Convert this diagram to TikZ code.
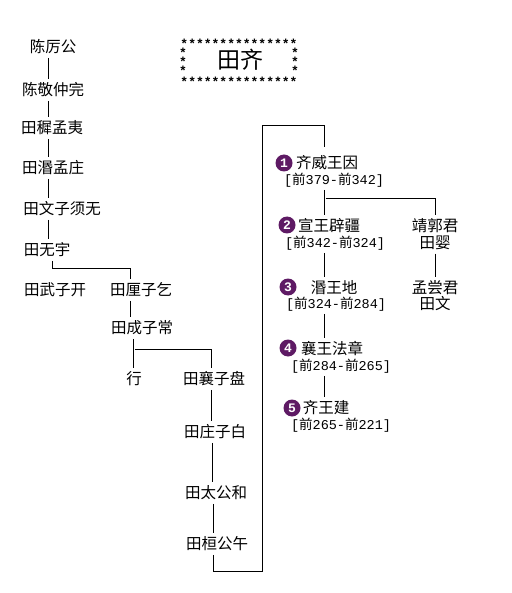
\documentclass[tikz,border=0pt]{standalone}
\usepackage{fontspec}
\setmainfont{Noto Sans CJK SC}
\newfontfamily\monofont{Liberation Mono}
\usetikzlibrary{positioning}
\definecolor{numpurple}{HTML}{5E1A64}
\newcommand{\reign}[2]{{\monofont[}前{\monofont #1-}前{\monofont #2]}}
\newcommand{\starline}[1]{\raisebox{-7.25pt}[2.5pt][2.5pt]{#1}}

\begin{document}
\begin{tikzpicture}[
    x=1pt, y=-1pt,
    every node/.style={font=\fontsize{15.5}{18}\selectfont, inner sep=2pt},
    ruler/.style={},
    years/.style={font=\fontsize{13.5}{15}\selectfont, inner sep=1pt},
    num/.style={circle, fill=numpurple, text=white, inner sep=0pt, minimum size=17pt, font=\monofont\bfseries\fontsize{13}{13}\selectfont},
    stars/.style={font=\monofont\bfseries\fontsize{13}{13}\selectfont, inner sep=0pt},
    link/.style={line width=0.9pt, shorten <=1.5pt, shorten >=1.5pt}
]
\useasboundingbox (0,0) rectangle (511,593);

% Title box
\node[font=\fontsize{23}{25}\selectfont] (title) at (240,60) {田齐};
\node[stars] (startop) at (239,41) {\starline{***************}};
\node[stars] (starbot) at (239,79) {\starline{***************}};
\node[stars] (starl1) at (183,50.5) {\starline{*}};
\node[stars] (starl2) at (183,59.5) {\starline{*}};
\node[stars] (starl3) at (183,68.5) {\starline{*}};
\node[stars] (starr1) at (295,50.5) {\starline{*}};
\node[stars] (starr2) at (295,59.5) {\starline{*}};
\node[stars] (starr3) at (295,68.5) {\starline{*}};

% Chen ancestors
\node (chenli)   at (53,47)  {陈厉公};
\node (jingzhong) at (53,90) {陈敬仲完};
\node (zhimeng)  at (52,128) {田穉孟夷};
\node (minmeng)  at (53,168) {田湣孟庄};
\node (wenzi)    at (62,209) {田文子须无};
\node (wuyu)     at (47,250) {田无宇};
\node (wuzi)     at (55,290) {田武子开};
\node (lizi)     at (141,290) {田厘子乞};
\node (chengzi)  at (142,328) {田成子常};
\node (xing)     at (134,379) {行};
\node (xiangzi)  at (214,379) {田襄子盘};
\node (zhuangzi) at (215,432) {田庄子白};
\node (taigong)  at (216,493) {田太公和};
\node (huangong) at (217,544) {田桓公午};

% Kings of Tian Qi
\node[ruler] (n1) at (327,163) {齐威王因};
\node[years] (d1) at (334,180) {\reign{379}{342}};
\node[ruler] (n2) at (329,226) {宣王辟疆};
\node[years] (d2) at (335,243) {\reign{342}{324}};
\node[ruler] (n3) at (334,288) {湣王地};
\node[years] (d3) at (336,304) {\reign{324}{284}};
\node[ruler] (n4) at (332,349) {襄王法章};
\node[years] (d4) at (341,366) {\reign{284}{265}};
\node[ruler] (n5) at (326,408) {齐王建};
\node[years] (d5) at (341,425) {\reign{265}{221}};

\node[num] (c1) at (284,163) {1};
\node[num] (c2) at (287,225) {2};
\node[num] (c3) at (288,287) {3};
\node[num] (c4) at (288,348) {4};
\node[num] (c5) at (292,408) {5};

% Jingguo line
\node (jingguo) at (435,226) {靖郭君};
\node (ying)    at (435,243) {田婴};
\node (mengchang) at (435,288) {孟尝君};
\node (tianwen)   at (435,304) {田文};

% Chen line connectors
\coordinate (trunk) at (48,0);
\draw[link] (chenli.south -| trunk) -- (jingzhong.north -| trunk);
\draw[link] (jingzhong.south -| trunk) -- (zhimeng.north -| trunk);
\draw[link] (zhimeng.south -| trunk) -- (minmeng.north -| trunk);
\draw[link] (minmeng.south -| trunk) -- (wenzi.north -| trunk);
\draw[link] (wenzi.south -| trunk) -- (wuyu.north -| trunk);
\draw[link] ([xshift=5pt]wuyu.south) -- ++(0,9) -| ([xshift=-11pt]lizi.north);
\draw[link] ([xshift=-11pt]lizi.south) -- ([xshift=-11pt]lizi.south |- chengzi.north);
\draw[link] ([xshift=-9pt]chengzi.south) -- ([xshift=-9pt]chengzi.south |- xing.north);
\draw[link] ([xshift=-9pt]chengzi.south) ++(0,12) -| ([xshift=-3pt]xiangzi.north);
\draw[link] ([xshift=-3pt]xiangzi.south) -- ([xshift=-3pt]xiangzi.south |- zhuangzi.north);
\draw[link] ([xshift=-3pt]zhuangzi.south) -- ([xshift=-3pt]zhuangzi.south |- taigong.north);
\draw[link] ([xshift=-3pt]taigong.south) -- ([xshift=-3pt]taigong.south |- huangong.north);

% Loop up to the kings
\coordinate (spine) at (324,0);
\coordinate (loopbot) at (262,571);
\coordinate (looptop) at (262,125);
\draw[link, shorten >=7pt] ([xshift=-4pt]huangong.south) |- (loopbot) -- (looptop) -| (n1.north -| spine);

% Kings connectors
\draw[link] (d1.south -| spine) -- (n2.north -| spine);
\draw[link] (d1.south -| spine) ++(0,10) -| (jingguo.north);
\draw[link] (d2.south -| spine) -- (n3.north -| spine);
\draw[link] (ying.south) -- (mengchang.north);
\draw[link] (d3.south -| spine) -- (n4.north -| spine);
\draw[link] (d4.south -| spine) -- (n5.north -| spine);
\end{tikzpicture}
\end{document}
